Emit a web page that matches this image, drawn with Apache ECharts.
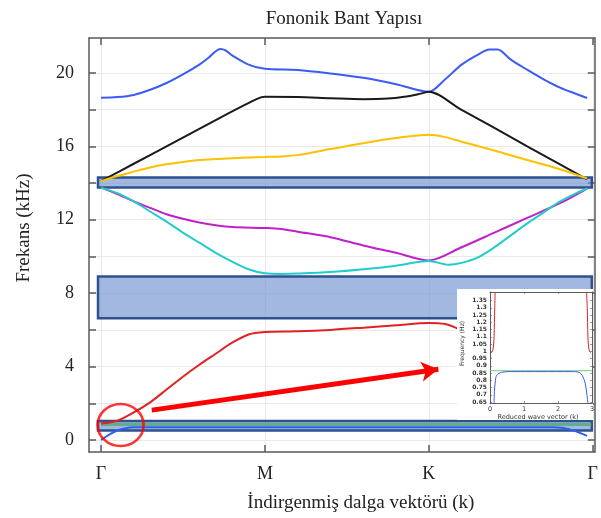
<!DOCTYPE html>
<html><head><meta charset="utf-8">
<script src="https://cdn.jsdelivr.net/npm/echarts@6/dist/echarts.min.js"></script>
<style>html,body{margin:0;padding:0;background:#fff}#c{width:601px;height:518px}</style>
</head><body><div id="c"></div>
<script>
// ---- tick positions / labels ----
const kTickValues = [0, 1, 2, 3];
const kTickLabels = ['Γ', 'M', 'K', 'Γ'];
const fTickValues = [0, 2, 4, 6, 8, 10, 12, 14, 16, 18, 20];
const fLabelValues = [0, 4, 8, 12, 16, 20];

// ---- band curves [k, frequency kHz] ----
const bandBlueTop = [[0,18.64],[0.1,18.68],[0.2,18.8],[0.3,19.08],[0.4,19.45],[0.5,19.92],[0.6,20.45],[0.66,20.85],[0.7,21.18],[0.73,21.3],[0.76,21.22],[0.8,20.95],[0.9,20.45],[1.0,20.22],[1.2,20.16],[1.4,19.97],[1.6,19.73],[1.8,19.38],[2.0,18.97],[2.1,19.65],[2.2,20.45],[2.3,21.0],[2.37,21.27],[2.42,21.27],[2.5,20.72],[2.6,20.17],[2.7,19.65],[2.8,19.2],[2.9,18.85],[2.965,18.63]];
const bandBlack = [[0,14.1],[0.2,15.05],[0.4,16.0],[0.6,16.95],[0.8,17.9],[0.92,18.45],[0.98,18.68],[1.0,18.7],[1.2,18.68],[1.4,18.62],[1.6,18.57],[1.75,18.6],[1.85,18.7],[1.95,18.87],[2.0,18.97],[2.2,17.98],[2.4,17.0],[2.6,16.0],[2.8,15.02],[2.965,14.2]];
const bandYellow = [[0,14.1],[0.1,14.38],[0.2,14.62],[0.3,14.85],[0.4,15.02],[0.5,15.15],[0.6,15.25],[0.8,15.35],[1.0,15.42],[1.1,15.45],[1.2,15.52],[1.4,15.85],[1.6,16.17],[1.8,16.45],[2.0,16.63],[2.1,16.5],[2.2,16.25],[2.42,15.72],[2.6,15.25],[2.8,14.75],[2.965,14.25]];
const bandMagenta = [[0,13.75],[0.1,13.4],[0.2,13.0],[0.3,12.65],[0.4,12.3],[0.5,12.05],[0.6,11.85],[0.7,11.7],[0.8,11.6],[1.0,11.55],[1.1,11.5],[1.2,11.35],[1.4,11.05],[1.6,10.6],[1.8,10.2],[2.0,9.78],[2.2,10.5],[2.4,11.3],[2.6,12.1],[2.8,12.9],[2.965,13.7]];
const bandCyan = [[0,13.75],[0.1,13.45],[0.2,13.0],[0.3,12.45],[0.4,11.9],[0.5,11.3],[0.6,10.75],[0.7,10.2],[0.8,9.72],[0.9,9.3],[1.0,9.08],[1.1,9.05],[1.2,9.07],[1.4,9.15],[1.6,9.3],[1.8,9.5],[2.0,9.75],[2.12,9.55],[2.2,9.65],[2.3,9.95],[2.4,10.5],[2.5,11.15],[2.6,11.8],[2.7,12.4],[2.8,13.0],[2.9,13.45],[2.965,13.7]];
const bandRed = [[0,0.9],[0.1,1.05],[0.2,1.5],[0.3,2.05],[0.4,2.75],[0.5,3.45],[0.6,4.1],[0.7,4.7],[0.8,5.3],[0.9,5.75],[1.0,5.88],[1.2,5.92],[1.4,6.0],[1.6,6.12],[1.8,6.25],[2.0,6.38],[2.1,6.32],[2.17,6.1],[2.25,5.7]];
const bandBlueLow = [[0,0.0],[0.05,0.3],[0.1,0.52],[0.15,0.64],[0.2,0.69],[0.3,0.7],[1.0,0.7],[2.0,0.7],[2.75,0.7],[2.82,0.66],[2.89,0.5],[2.93,0.36],[2.965,0.23]];
const greenLine = [[0,0.85],[2.99,0.85]];

// ---- band gaps [kStart, kEnd, fLow, fHigh] ----
const bandGaps = [[-0.018, 2.994, 13.75, 14.3],[-0.018, 2.994, 6.63, 8.91],[-0.018, 2.994, 0.52, 1.03]];

// ---- annotations ----
const circleMark = [[0.12, 0.82]];
const arrowFrom = [0.31, 1.63];
const arrowTo = [2.058, 3.86];

// ---- inset (Frequency Hz vs reduced wave vector) ----
const insetKTicks = [0, 1, 2, 3];
const insetFTicks = [0.65,0.7,0.75,0.8,0.85,0.9,0.95,1,1.05,1.1,1.15,1.2,1.25,1.3,1.35];
const insetRedLeft = [[0.15,1.41],[0.14,1.3],[0.13,1.2],[0.12,1.1],[0.1,1.03],[0.07,1.0],[0.02,0.985]];
const insetRedRight = [[2.84,1.41],[2.86,1.3],[2.87,1.2],[2.88,1.1],[2.9,1.03],[2.93,1.0],[2.97,0.99]];
const insetBlue = [[0.12,0.643],[0.13,0.72],[0.16,0.8],[0.2,0.836],[0.34,0.855],[0.6,0.86],[1.5,0.86],[2.4,0.86],[2.62,0.855],[2.72,0.83],[2.8,0.78],[2.85,0.7],[2.88,0.643]];
const insetGreen = [[0,0.866],[3,0.866]];

const serif = 'Liberation Serif';
const axisGrey = '#5a5a5a';
const gridGrey = '#e9e9e9';

const mainX = {
  type:'value', gridIndex:0, min:-0.0729, max:3.012,
  axisLine:{show:true, onZero:false, lineStyle:{color:axisGrey, width:1.5}},
  axisTick:{show:true, inside:true, length:7, customValues:kTickValues, lineStyle:{color:axisGrey, width:1.5}},
  splitLine:{show:false}
};
const mainY = {
  type:'value', gridIndex:0, min:-0.652, max:21.9,
  axisLine:{show:true, onZero:false, lineStyle:{color:axisGrey, width:1.5}},
  axisTick:{show:true, inside:true, length:7, customValues:fTickValues, lineStyle:{color:axisGrey, width:1.5}},
  splitLine:{show:false}
};

const option = {
  animation:false,
  backgroundColor:'#fff',
  title:{text:'Fononik Bant Yapısı', left:339, top:5, textAlign:'center',
    textStyle:{fontFamily:serif, fontSize:19, fontWeight:'normal', color:'#222'}},
  grid:[
    {left:89, right:4, top:38, bottom:65},
    {left:490, right:9, top:292, bottom:115}
  ],
  graphic:[{type:'rect', z:5, shape:{x:457, y:289, width:136, height:131}, style:{fill:'#fff'}}],
  xAxis:[
    Object.assign({}, mainX, {position:'bottom',
      axisLabel:{show:true, customValues:kTickValues, margin:13,
        formatter:(v)=>kTickLabels[kTickValues.indexOf(v)],
        fontFamily:serif, fontSize:18, color:'#222'},
      splitLine:{show:true, lineStyle:{color:gridGrey, width:1}},
      name:'İndirgenmiş dalga vektörü (k)', nameLocation:'middle', nameGap:42,
      nameTextStyle:{fontFamily:serif, fontSize:19, color:'#222', padding:[0,0,0,38]}}),
    Object.assign({}, mainX, {position:'top', axisLabel:{show:false}}),
    {type:'value', gridIndex:1, position:'bottom', min:0, max:3, z:6,
      axisLine:{show:true, onZero:false, lineStyle:{color:'#333', width:0.8}},
      axisTick:{show:true, inside:true, length:2, customValues:insetKTicks, lineStyle:{color:'#555', width:0.6}},
      axisLabel:{show:true, customValues:insetKTicks, margin:3, fontFamily:'DejaVu Sans', fontSize:6.5, color:'#333'},
      splitLine:{show:false},
      name:'Reduced wave vector (k)', nameLocation:'middle', nameGap:10,
      nameTextStyle:{fontFamily:'DejaVu Sans', fontSize:6.5, color:'#333', padding:[0,0,0,-6]}},
    {type:'value', gridIndex:1, position:'top', min:0, max:3, z:6,
      axisLine:{show:true, onZero:false, lineStyle:{color:'#333', width:0.8}},
      axisTick:{show:true, inside:true, length:2, customValues:insetKTicks, lineStyle:{color:'#555', width:0.6}},
      axisLabel:{show:false}, splitLine:{show:false}}
  ],
  yAxis:[
    Object.assign({}, mainY, {position:'left',
      axisLabel:{show:true, customValues:fLabelValues, margin:15, fontFamily:serif, fontSize:18, color:'#222'},
      splitLine:{show:true, lineStyle:{color:gridGrey, width:1}},
      name:'Frekans (kHz)', nameLocation:'middle', nameGap:55,
      nameTextStyle:{fontFamily:serif, fontSize:19, color:'#222', padding:[0,0,0,34]}}),
    Object.assign({}, mainY, {position:'right', axisLabel:{show:false}}),
    {type:'value', gridIndex:1, position:'left', min:0.643, max:1.41, z:6,
      axisLine:{show:true, onZero:false, lineStyle:{color:'#333', width:0.8}},
      axisTick:{show:true, inside:true, length:2, customValues:insetFTicks, lineStyle:{color:'#555', width:0.6}},
      axisLabel:{show:true, customValues:insetFTicks, margin:3, formatter:(v)=>String(+v.toFixed(2)),
        fontFamily:'DejaVu Sans', fontSize:6, fontWeight:'bold', color:'#333'},
      splitLine:{show:false},
      name:'Frequency (Hz)', nameLocation:'middle', nameGap:25,
      nameTextStyle:{fontFamily:'DejaVu Sans', fontSize:6, color:'#333', padding:[0,0,0,8]}},
    {type:'value', gridIndex:1, position:'right', min:0.643, max:1.41, z:6,
      axisLine:{show:true, onZero:false, lineStyle:{color:'#333', width:0.8}},
      axisTick:{show:true, inside:true, length:2, customValues:insetFTicks, lineStyle:{color:'#555', width:0.6}},
      axisLabel:{show:false}, splitLine:{show:false}}
  ],
  series:[
    {type:'line', xAxisIndex:0, yAxisIndex:0, z:1, data:[], symbol:'none',
      markArea:{silent:true,
        itemStyle:{color:'rgba(114,147,209,0.66)', borderColor:'#2f528f', borderWidth:2.5},
        data: bandGaps.map(g=>[{coord:[g[0], g[2]]},{coord:[g[1], g[3]]}])}},
    {type:'line', name:'green', data:greenLine, symbol:'none', z:2, lineStyle:{color:'#5fae8a', width:3}},
    {type:'line', data:bandBlueTop, symbol:'none', smooth:0.3, z:3, lineStyle:{color:'#3a5cf5', width:2}},
    {type:'line', data:bandBlack, symbol:'none', smooth:0.3, z:3, lineStyle:{color:'#1a1a1a', width:2}},
    {type:'line', data:bandYellow, symbol:'none', smooth:0.3, z:3, lineStyle:{color:'#ffc000', width:2}},
    {type:'line', data:bandMagenta, symbol:'none', smooth:0.3, z:3, lineStyle:{color:'#c020c8', width:2}},
    {type:'line', data:bandCyan, symbol:'none', smooth:0.3, z:3, lineStyle:{color:'#22cccc', width:2}},
    {type:'line', data:bandRed, symbol:'none', smooth:0.3, z:3, lineStyle:{color:'#e02222', width:2}},
    {type:'line', data:bandBlueLow, symbol:'none', smooth:0.3, z:3, lineStyle:{color:'#3060f0', width:2}},
    {type:'scatter', data:circleMark, z:4, symbol:'circle', symbolSize:[46,42],
      itemStyle:{color:'rgba(0,0,0,0)', borderColor:'#ff0000', borderWidth:2.5},
      markLine:{silent:true, symbol:['none','arrow'], symbolSize:[15,17], animation:false,
        lineStyle:{color:'#ff0000', width:5, type:'solid'}, label:{show:false},
        data:[[{coord:arrowFrom},{coord:arrowTo}]]}},
    {type:'line', xAxisIndex:2, yAxisIndex:2, z:7, data:insetGreen, symbol:'none', lineStyle:{color:'#77c777', width:1}},
    {type:'line', xAxisIndex:2, yAxisIndex:2, z:7, data:insetRedLeft, symbol:'none', smooth:0.3, lineStyle:{color:'#e02222', width:1}},
    {type:'line', xAxisIndex:2, yAxisIndex:2, z:7, data:insetRedRight, symbol:'none', smooth:0.3, lineStyle:{color:'#e02222', width:1}},
    {type:'line', xAxisIndex:2, yAxisIndex:2, z:7, data:insetBlue, symbol:'none', smooth:0.3, lineStyle:{color:'#3a5cf5', width:1}}
  ]
};
const chart = echarts.init(document.getElementById('c'), null, {renderer:'canvas'});
chart.setOption(option);
</script></body></html>
